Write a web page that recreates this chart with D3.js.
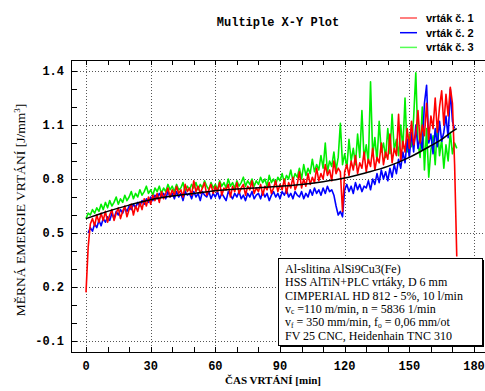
<!DOCTYPE html>
<html>
<head>
<meta charset="utf-8">
<script src="https://cdn.jsdelivr.net/npm/d3@7"></script>
<style>
  body { margin: 0; background: #fff; }
  svg { display: block; }
</style>
</head>
<body>
<div id="chart-area"></div>
<script>
// series names
var seriesNames = ["vrták č. 1", "vrták č. 2", "vrták č. 3"];
var seriesColors = ["#ff0000", "#0000ff", "#00ee00"];
var legendColors = ["#ff5555", "#0000ff", "#55ff55"];

// first sample time [min] of each series, one sample per minute
var redStart = 0, blueStart = 1, greenStart = 0;

var redValues = [
  0.17, 0.42, 0.55, 0.58, 0.54, 0.60, 0.56, 0.61, 0.57, 0.62,
  0.56, 0.60, 0.63, 0.57, 0.61, 0.64, 0.58, 0.62, 0.65, 0.59,
  0.63, 0.66, 0.60, 0.65, 0.62, 0.67, 0.63, 0.69, 0.65, 0.70,
  0.66, 0.71, 0.68, 0.72, 0.67, 0.73, 0.69, 0.72, 0.75, 0.70,
  0.74, 0.71, 0.76, 0.72, 0.74, 0.70, 0.77, 0.73, 0.75, 0.71,
  0.79, 0.73, 0.76, 0.72, 0.75, 0.78, 0.71, 0.74, 0.77, 0.72,
  0.76, 0.73, 0.78, 0.71, 0.75, 0.74, 0.77, 0.70, 0.76, 0.73,
  0.78, 0.72, 0.75, 0.77, 0.71, 0.76, 0.74, 0.79, 0.72, 0.75,
  0.73, 0.77, 0.71, 0.76, 0.74, 0.78, 0.72, 0.75, 0.79, 0.73,
  0.77, 0.74, 0.80, 0.72, 0.78, 0.75, 0.81, 0.74, 0.77, 0.84,
  0.75, 0.80, 0.76, 0.83, 0.77, 0.81, 0.78, 0.86, 0.79, 0.83,
  0.80, 0.88, 0.82, 0.85, 0.79, 0.90, 0.83, 0.86, 0.84, 0.62,
  0.84, 0.88, 0.82, 0.90, 0.85, 0.93, 0.83, 0.89, 0.86, 0.95,
  0.84, 0.91, 0.87, 0.97, 0.85, 0.92, 0.89, 1.00, 0.88, 0.95,
  0.91, 1.05, 0.89, 0.97, 0.93, 1.16, 0.90, 1.01, 0.95, 1.08,
  0.97, 1.12, 0.99, 1.05, 1.18, 1.00, 1.10, 1.04, 1.22, 1.02,
  1.15, 1.08, 1.25, 1.06, 1.20, 1.29, 1.10, 1.27, 1.15, 1.31,
  1.22, 0.88, 0.37
];

var blueValues = [
        0.50, 0.53, 0.51, 0.55, 0.53, 0.57, 0.54, 0.58, 0.56,
  0.59, 0.57, 0.61, 0.58, 0.62, 0.60, 0.63, 0.61, 0.64, 0.62,
  0.65, 0.63, 0.66, 0.64, 0.67, 0.65, 0.68, 0.66, 0.69, 0.67,
  0.70, 0.68, 0.71, 0.69, 0.72, 0.70, 0.72, 0.69, 0.73, 0.70,
  0.72, 0.69, 0.73, 0.70, 0.72, 0.68, 0.73, 0.71, 0.72, 0.69,
  0.73, 0.70, 0.72, 0.68, 0.73, 0.71, 0.70, 0.73, 0.69, 0.72,
  0.70, 0.73, 0.69, 0.72, 0.70, 0.68, 0.73, 0.71, 0.69, 0.72,
  0.70, 0.73, 0.69, 0.71, 0.68, 0.72, 0.70, 0.73, 0.69, 0.71,
  0.72, 0.69, 0.73, 0.70, 0.72, 0.68, 0.71, 0.73, 0.70, 0.72,
  0.69, 0.73, 0.71, 0.74, 0.70, 0.72, 0.69, 0.73, 0.71, 0.70,
  0.73, 0.69, 0.72, 0.70, 0.74, 0.71, 0.75, 0.72, 0.74, 0.71,
  0.75, 0.72, 0.76, 0.73, 0.74, 0.71, 0.65, 0.60, 0.62, 0.59,
  0.74, 0.77, 0.73, 0.76, 0.72, 0.78, 0.74, 0.77, 0.73, 0.76,
  0.75, 0.79, 0.74, 0.80, 0.77, 0.83, 0.78, 0.85, 0.80, 0.84,
  0.79, 0.86, 0.81, 0.88, 0.83, 0.91, 0.86, 0.95, 0.89, 1.02,
  0.92, 1.06, 0.95, 1.10, 0.97, 1.03, 0.96, 1.22, 1.32, 1.00,
  1.05, 0.94, 1.08, 0.98, 1.12, 1.01, 1.06, 1.15, 1.03, 1.30,
  1.12, 1.08
];

var greenValues = [
  0.58, 0.61, 0.60, 0.63, 0.61, 0.64, 0.62, 0.66, 0.63, 0.67,
  0.64, 0.68, 0.65, 0.67, 0.70, 0.66, 0.69, 0.67, 0.71, 0.68,
  0.70, 0.73, 0.69, 0.72, 0.70, 0.74, 0.71, 0.73, 0.76, 0.72,
  0.74, 0.71, 0.75, 0.73, 0.76, 0.72, 0.75, 0.73, 0.77, 0.74,
  0.76, 0.73, 0.77, 0.74, 0.75, 0.78, 0.73, 0.76, 0.74, 0.77,
  0.75, 0.78, 0.74, 0.77, 0.75, 0.79, 0.76, 0.74, 0.78, 0.75,
  0.77, 0.74, 0.79, 0.76, 0.78, 0.75, 0.80, 0.76, 0.78, 0.75,
  0.79, 0.76, 0.78, 0.81, 0.76, 0.79, 0.77, 0.80, 0.76, 0.79,
  0.77, 0.81, 0.78, 0.80, 0.76, 0.82, 0.78, 0.80, 0.77, 0.81,
  0.79, 0.83, 0.78, 0.82, 0.80, 0.85, 0.79, 0.83, 0.81, 0.86,
  0.80, 0.88, 0.82, 0.86, 0.83, 0.91, 0.84, 0.88, 0.85, 0.93,
  0.86, 1.00, 0.84, 0.90, 0.87, 0.95, 0.85, 0.92, 1.11, 0.88,
  0.94, 0.86, 1.02, 0.90, 0.97, 0.88, 1.05, 0.92, 1.18, 0.91,
  0.99, 0.89, 1.34, 0.93, 1.03, 0.90, 1.12, 0.95, 1.00, 0.92,
  1.08, 0.94, 1.16, 0.96, 1.02, 0.93, 1.10, 0.97, 1.25, 0.95,
  1.05, 0.98, 1.14, 1.39, 1.00, 0.92, 1.20, 0.85, 1.08, 0.81,
  0.96, 1.04, 0.88, 1.10, 0.93, 1.02, 0.86, 0.99, 0.90, 1.06,
  0.94, 1.00, 0.97
];

// fitted trend (black curve)
var trendTimes  = [0, 5, 10, 20, 30, 40, 50, 60, 70, 80, 90, 100, 110, 120, 130, 140, 150, 160, 165, 170, 172];
var trendValues = [0.58, 0.60, 0.62, 0.655, 0.685, 0.705, 0.72, 0.735, 0.745, 0.752, 0.76, 0.77, 0.785, 0.805, 0.835, 0.87, 0.92, 0.985, 1.02, 1.065, 1.08];

var xTickValues = [0, 30, 60, 90, 120, 150, 180];
var yTickValues = [-0.1, 0.2, 0.5, 0.8, 1.1, 1.4];

// info box lines: [text, isSubscript]
var infoLines = [
  [["Al-slitina AlSi9Cu3(Fe)", false]],
  [["HSS AlTiN+PLC vrtáky, D 6 mm", false]],
  [["CIMPERIAL  HD 812 - 5%, 10 l/min", false]],
  [["v", false], ["c", true], [" =110 m/min, n = 5836 1/min", false]],
  [["v", false], ["f", true], [" = 350 mm/min, f", false], ["o", true], [" = 0,06 mm/ot", false]],
  [["FV  25 CNC, Heidenhain TNC 310", false]]
];

var W = 485, H = 391;
var plot = { left: 71, right: 485, top: 60, bottom: 352 };

var svg = d3.select("#chart-area")
    .append("svg")
        .attr("width", W)
        .attr("height", H);

var x = d3.scaleLinear()
    .domain([-6.96, 185.1])
    .range([plot.left, plot.right]);

var y = d3.scaleLinear()
    .domain([-0.1, 1.4])
    .range([341, 71]);

var mono = "'Liberation Mono', 'DejaVu Sans Mono', monospace";
var serif = "'Liberation Serif', 'DejaVu Serif', serif";

// grid (dotted)
var grid = svg.append("g").attr("class", "grid");
grid.selectAll("line.gx")
    .data(xTickValues)
    .enter().append("line")
        .attr("class", "gx")
        .attr("x1", d => Math.round(x(d)) + 0.5)
        .attr("x2", d => Math.round(x(d)) + 0.5)
        .attr("y1", plot.top)
        .attr("y2", plot.bottom)
        .attr("stroke", "#555")
        .attr("stroke-dasharray", "1,2");
grid.selectAll("line.gy")
    .data(yTickValues)
    .enter().append("line")
        .attr("class", "gy")
        .attr("y1", d => Math.round(y(d)) + 0.5)
        .attr("y2", d => Math.round(y(d)) + 0.5)
        .attr("x1", plot.left)
        .attr("x2", plot.right)
        .attr("stroke", "#555")
        .attr("stroke-dasharray", "1,2");

// series
var line = d3.line()
    .x(d => x(d[0]))
    .y(d => y(d[1]));

function pairs(start, values) {
    return values.map((v, i) => [start + i, v]);
}

var series = [
    { data: pairs(greenStart, greenValues), color: seriesColors[2] },
    { data: pairs(blueStart, blueValues), color: seriesColors[1] },
    { data: pairs(redStart, redValues), color: seriesColors[0] }
];

svg.append("g").selectAll("path")
    .data(series)
    .enter().append("path")
        .attr("d", d => line(d.data))
        .attr("fill", "none")
        .attr("stroke", d => d.color)
        .attr("stroke-width", 1.6)
        .attr("stroke-linejoin", "round");

// trend
var trendLine = d3.line()
    .curve(d3.curveMonotoneX)
    .x(d => x(d[0]))
    .y(d => y(d[1]));

svg.append("path")
    .attr("d", trendLine(trendTimes.map((t, i) => [t, trendValues[i]])))
    .attr("fill", "none")
    .attr("stroke", "#000")
    .attr("stroke-width", 1.5);

// axes frame
var frame = svg.append("g").attr("stroke", "#000").attr("stroke-width", 1);
frame.append("line").attr("x1", plot.left + 0.5).attr("x2", plot.left + 0.5).attr("y1", plot.top).attr("y2", plot.bottom + 1);
frame.append("line").attr("x1", plot.left).attr("x2", plot.right).attr("y1", plot.bottom + 0.5).attr("y2", plot.bottom + 0.5);
frame.append("line").attr("x1", plot.left).attr("x2", plot.right).attr("y1", plot.top + 0.5).attr("y2", plot.top + 0.5);

// y ticks: inward, every 0.1
var yMinor = d3.range(-1, 15).map(d => d / 10);
frame.selectAll("line.ty")
    .data(yMinor)
    .enter().append("line")
        .attr("class", "ty")
        .attr("x1", plot.left)
        .attr("x2", plot.left + 6)
        .attr("y1", d => Math.round(y(d)) + 0.5)
        .attr("y2", d => Math.round(y(d)) + 0.5);

// x ticks: inward on bottom and top, every 10 min
var xMinor = d3.range(0, 19).map(d => d * 10);
frame.selectAll("line.tb")
    .data(xMinor)
    .enter().append("line")
        .attr("class", "tb")
        .attr("x1", d => Math.round(x(d)) + 0.5)
        .attr("x2", d => Math.round(x(d)) + 0.5)
        .attr("y1", plot.bottom)
        .attr("y2", plot.bottom - 5);
frame.selectAll("line.tt")
    .data(xMinor)
    .enter().append("line")
        .attr("class", "tt")
        .attr("x1", d => Math.round(x(d)) + 0.5)
        .attr("x2", d => Math.round(x(d)) + 0.5)
        .attr("y1", plot.top)
        .attr("y2", plot.top + 5);

// tick labels
svg.append("g").selectAll("text")
    .data(yTickValues)
    .enter().append("text")
        .attr("x", 64)
        .attr("y", d => y(d) + 4)
        .attr("text-anchor", "end")
        .attr("font-family", mono)
        .attr("font-weight", "bold")
        .attr("font-size", "12px")
        .text(d => d3.format(".1f")(d).replace("−", "-"));

svg.append("g").selectAll("text")
    .data(xTickValues)
    .enter().append("text")
        .attr("x", d => x(d))
        .attr("y", 370)
        .attr("text-anchor", "middle")
        .attr("font-family", mono)
        .attr("font-weight", "bold")
        .attr("font-size", "12px")
        .text(d => d);

// title
svg.append("text")
    .attr("x", 278)
    .attr("y", 26)
    .attr("text-anchor", "middle")
    .attr("font-family", mono)
    .attr("font-weight", "bold")
    .attr("font-size", "12px")
    .text("Multiple X-Y Plot");

// legend
var legend = svg.append("g");
seriesNames.forEach((name, i) => {
    var ly = 18 + i * 14.7;
    legend.append("line")
        .attr("x1", 400).attr("x2", 417)
        .attr("y1", ly).attr("y2", ly)
        .attr("stroke", legendColors[i])
        .attr("stroke-width", 1.5);
    legend.append("text")
        .attr("x", 426)
        .attr("y", ly + 4)
        .attr("font-family", "'Liberation Sans', Arial, sans-serif")
        .attr("font-weight", "bold")
        .attr("font-size", "11px")
        .text(name);
});

// X label
svg.append("text")
    .attr("x", 273)
    .attr("y", 384)
    .attr("text-anchor", "middle")
    .attr("font-family", serif)
    .attr("font-weight", "bold")
    .attr("font-size", "11px")
    .text("ČAS VRTÁNÍ [min]");

// Y label
var yl = svg.append("text")
    .attr("transform", "translate(25, 210) rotate(-90)")
    .attr("text-anchor", "middle")
    .attr("font-family", serif)
    .attr("font-size", "13.5px");
yl.append("tspan").text("MĚRNÁ EMERGIE VRTÁNÍ [J/mm");
yl.append("tspan").attr("font-size", "9px").attr("dy", -5).text("3");
yl.append("tspan").attr("dy", 5).text("]");

// info box
var box = { x: 278, y: 258, w: 204, h: 87 };
svg.append("rect")
    .attr("x", box.x + 2).attr("y", box.y + 2)
    .attr("width", box.w).attr("height", box.h)
    .attr("fill", "#000");
svg.append("rect")
    .attr("x", box.x + 0.5).attr("y", box.y + 0.5)
    .attr("width", box.w).attr("height", box.h)
    .attr("fill", "#fff")
    .attr("stroke", "#000");

var info = svg.append("g")
    .attr("font-family", serif)
    .attr("font-size", "12px");
infoLines.forEach((parts, i) => {
    var t = info.append("text")
        .attr("x", box.x + 7)
        .attr("y", box.y + 15 + i * 13.3);
    var shift = 0;
    parts.forEach(p => {
        var target = p[1] ? 1.5 : 0;
        var span = t.append("tspan")
            .attr("dy", target - shift)
            .text(p[0]);
        if (p[1]) span.attr("font-size", "7.5px");
        shift = target;
    });
});
</script>
</body>
</html>
